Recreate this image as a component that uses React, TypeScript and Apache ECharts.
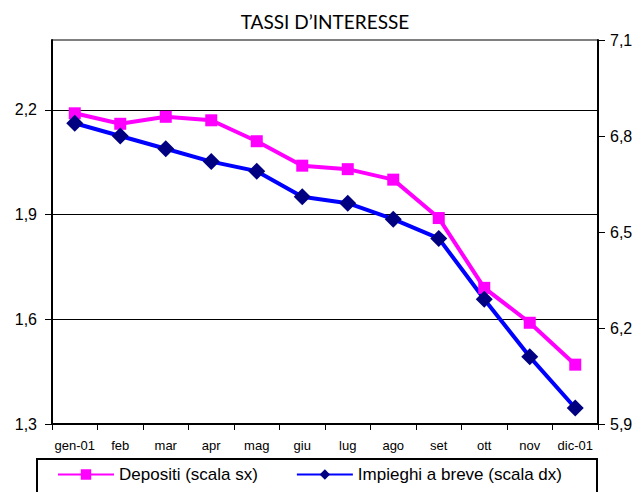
import React, { useEffect, useRef } from "react";
import * as echarts from "echarts";

const months = ["gen-01", "feb", "mar", "apr", "mag", "giu", "lug", "ago", "set", "ott", "nov", "dic-01"];
const depositi = [2.19, 2.16, 2.18, 2.17, 2.11, 2.04, 2.03, 2.0, 1.89, 1.69, 1.59, 1.47];
const impieghi = [6.84, 6.8, 6.76, 6.72, 6.69, 6.61, 6.59, 6.54, 6.48, 6.29, 6.11, 5.95];
const leftTicks = [1.3, 1.6, 1.9, 2.2];
const rightTicks = [5.9, 6.2, 6.5, 6.8, 7.1];
const titleText = "TASSI D\u2019INTERESSE";
const seriesNames = ["Depositi (scala sx)", "Impieghi a breve (scala dx)"];

const FONT = "'Liberation Sans', Arial, sans-serif";
const fmt = (v: number) => v.toFixed(1).replace(".", ",");

export default function App() {
  const ref = useRef<HTMLDivElement>(null);
  useEffect(() => {
    if (!ref.current) return;
    const chart = echarts.init(ref.current, undefined, { renderer: "svg" });
    chart.setOption({
      animation: false,
      backgroundColor: "#fff",
      grid: {
        left: 52,
        right: 45,
        top: 40,
        bottom: 68,
        show: true,
        borderColor: "#000",
        borderWidth: 1,
        backgroundColor: "transparent",
      },
      graphic: [
        {
          type: "text",
          x: 325,
          y: 21,
          style: {
            text: titleText,
            font: "19px Lato, sans-serif",
            fill: "#000",
            textAlign: "center",
            textVerticalAlign: "middle",
          },
        },
        {
          type: "rect",
          shape: { x: 37, y: 459, width: 560, height: 60 },
          style: { fill: "none", stroke: "#000", lineWidth: 2 },
          silent: true,
        },
      ],
      legend: {
        left: 57,
        top: 466,
        padding: 0,
        itemWidth: 56,
        itemHeight: 13,
        itemGap: 38,
        data: seriesNames,
        textStyle: { fontFamily: FONT, fontSize: 17, color: "#000" },
      },
      xAxis: {
        type: "category",
        data: months,
        boundaryGap: true,
        axisLine: { lineStyle: { color: "#000", width: 2 } },
        axisTick: { show: true, length: 6, lineStyle: { color: "#000" } },
        axisLabel: { fontFamily: FONT, fontSize: 13, color: "#000", margin: 15, interval: 0 },
        splitLine: { show: false },
      },
      yAxis: [
        {
          type: "value",
          min: 1.3,
          max: 2.4,
          position: "left",
          axisLine: { show: true, lineStyle: { color: "#000", width: 2 } },
          axisTick: { show: true, length: 7, customValues: leftTicks, lineStyle: { color: "#000" } },
          axisLabel: {
            customValues: leftTicks,
            formatter: (v: number) => fmt(v),
            fontFamily: FONT,
            fontSize: 16,
            color: "#000",
            margin: 15,
          },
          splitLine: { show: true, lineStyle: { color: "#000", width: 1 } },
        },
        {
          type: "value",
          min: 5.9,
          max: 7.1,
          position: "right",
          axisLine: { show: true, lineStyle: { color: "#000", width: 2 } },
          axisTick: { show: true, length: 7, customValues: rightTicks, lineStyle: { color: "#000" } },
          axisLabel: {
            customValues: rightTicks,
            formatter: (v: number) => fmt(v),
            fontFamily: FONT,
            fontSize: 16,
            color: "#000",
            margin: 12,
          },
          splitLine: { show: false },
        },
      ],
      series: [
        {
          name: seriesNames[0],
          type: "line",
          yAxisIndex: 0,
          data: depositi,
          symbol: "rect",
          symbolSize: 12,
          itemStyle: { color: "#FF00FF" },
          lineStyle: { color: "#FF00FF", width: 4 },
        },
        {
          name: seriesNames[1],
          type: "line",
          yAxisIndex: 1,
          data: impieghi,
          symbol: "diamond",
          symbolSize: 17,
          itemStyle: { color: "#000080" },
          lineStyle: { color: "#0000FF", width: 4 },
        },
      ],
    });
    return () => chart.dispose();
  }, []);
  return (
    <div
      ref={ref}
      style={{ position: "fixed", left: 0, top: 0, width: 643, height: 492 }}
    />
  );
}
